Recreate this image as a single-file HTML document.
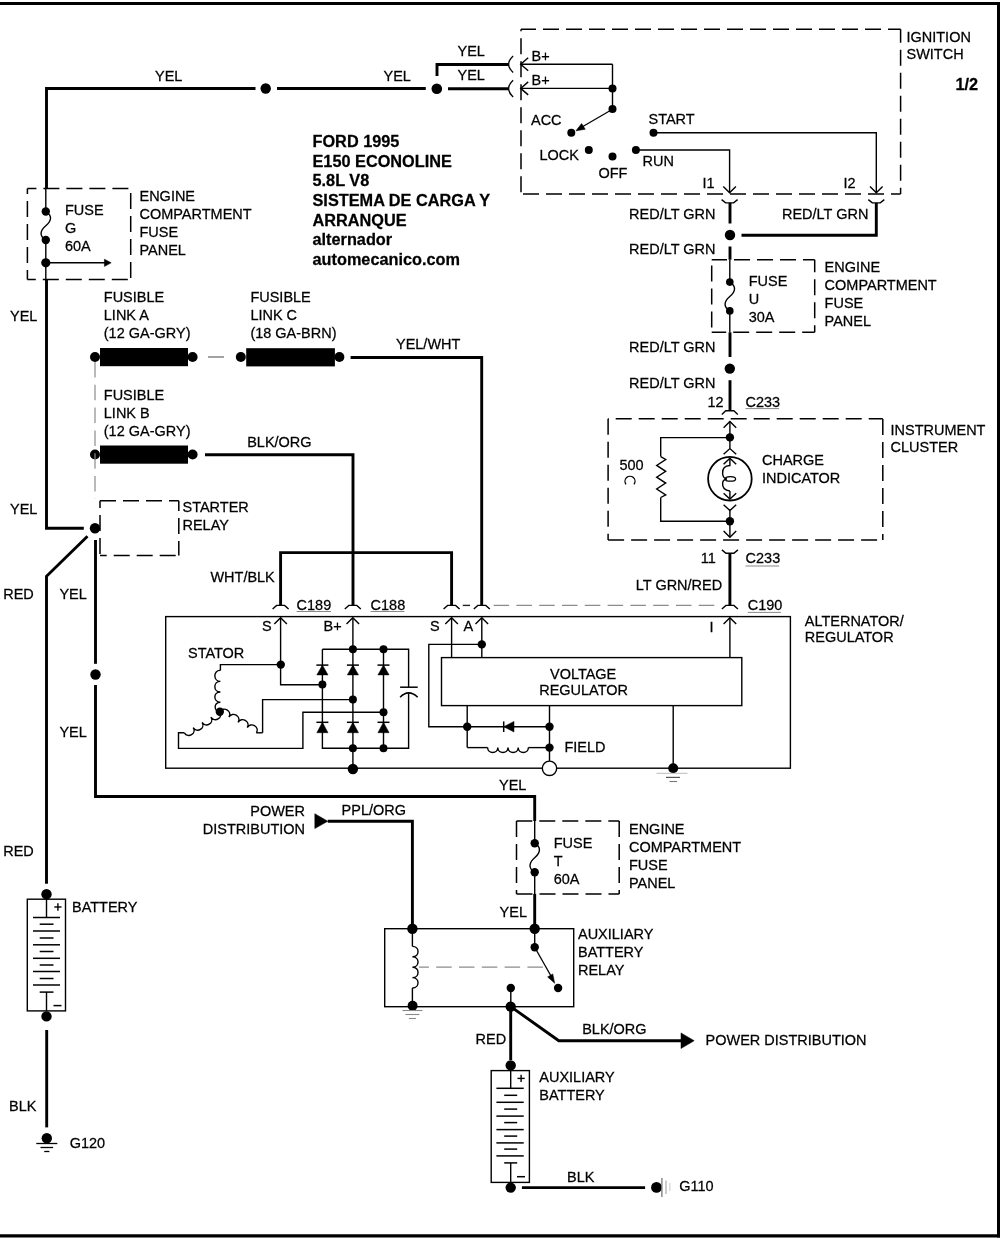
<!DOCTYPE html><html><head><meta charset="utf-8"><style>html,body{margin:0;padding:0;background:#fff;overflow:hidden}svg{display:block;will-change:transform}text{font-family:"Liberation Sans",sans-serif;fill:#000;stroke:#000;stroke-width:0.25px}</style></head><body>
<svg width="1000" height="1239" viewBox="0 0 1000 1239">
<rect width="1000" height="1239" fill="#fff"/>
<line x1="0" y1="3.5" x2="1000" y2="3.5" stroke="#000" stroke-width="3" />
<line x1="998.5" y1="2" x2="998.5" y2="1237.5" stroke="#000" stroke-width="3" />
<line x1="0" y1="1235.8" x2="1000" y2="1235.8" stroke="#000" stroke-width="3.2" />
<polyline points="46.5,188.6 46.5,88.5 255.5,88.5" fill="none" stroke="#000" stroke-width="2.9" stroke-linejoin="miter" />
<circle cx="265.7" cy="88.5" r="5.2" fill="#000"/>
<line x1="277" y1="88.5" x2="425.8" y2="88.5" stroke="#000" stroke-width="2.9" />
<circle cx="436.8" cy="88.8" r="5.3" fill="#000"/>
<line x1="448" y1="88.7" x2="508.5" y2="88.7" stroke="#000" stroke-width="2.9" />
<polyline points="437,76 437,64.5 508.5,64.5" fill="none" stroke="#000" stroke-width="2.9" stroke-linejoin="miter" />
<text transform="translate(155,80.5) scale(1,1.045)" font-size="14.5" >YEL</text>
<text transform="translate(383.5,80.5) scale(1,1.045)" font-size="14.5" >YEL</text>
<text transform="translate(457.5,55.5) scale(1,1.045)" font-size="14.5" >YEL</text>
<text transform="translate(457.5,80) scale(1,1.045)" font-size="14.5" >YEL</text>
<path d="M513.1,55.900000000000006 Q504.1,64.2 513.1,72.5" fill="none" stroke="#000" stroke-width="1.4" />
<path d="M513.1,80.3 Q504.1,88.6 513.1,96.89999999999999" fill="none" stroke="#000" stroke-width="1.4" />
<line x1="521" y1="29.3" x2="900.6" y2="29.3" stroke="#000" stroke-width="1.5" stroke-dasharray="16 7" stroke-dashoffset="1.00"/>
<line x1="900.6" y1="29.3" x2="900.6" y2="194" stroke="#000" stroke-width="1.5" stroke-dasharray="16 7" stroke-dashoffset="2.60"/>
<line x1="521" y1="194" x2="900.6" y2="194" stroke="#000" stroke-width="1.5" stroke-dasharray="16 7" stroke-dashoffset="21.00"/>
<line x1="521" y1="29.3" x2="521" y2="194" stroke="#000" stroke-width="1.5" stroke-dasharray="16 7" stroke-dashoffset="14.10"/>
<polyline points="528.2,57.7 520.7,64.2 528.2,70.7" fill="none" stroke="#000" stroke-width="1.4" stroke-linejoin="miter" />
<polyline points="528.2,81.9 520.7,88.4 528.2,94.9" fill="none" stroke="#000" stroke-width="1.4" stroke-linejoin="miter" />
<line x1="520.7" y1="64.2" x2="612.5" y2="64.2" stroke="#000" stroke-width="1.4" />
<line x1="520.7" y1="88.4" x2="612.5" y2="88.4" stroke="#000" stroke-width="1.4" />
<line x1="612.5" y1="64.2" x2="612.5" y2="109" stroke="#000" stroke-width="1.4" />
<circle cx="612.5" cy="88.4" r="4" fill="#000"/>
<circle cx="612.5" cy="109" r="4" fill="#000"/>
<line x1="609.5" y1="111" x2="582" y2="127" stroke="#000" stroke-width="1.2" />
<path d="M576,130.8 L581.6,123.6 L585.2,129.2 Z" fill="#000" stroke="#000" stroke-width="0.6" />
<circle cx="571.3" cy="132.8" r="4" fill="#000"/>
<circle cx="588.8" cy="150" r="4" fill="#000"/>
<circle cx="612.5" cy="156.4" r="4" fill="#000"/>
<circle cx="635.9" cy="150" r="4" fill="#000"/>
<circle cx="653.5" cy="132.8" r="4" fill="#000"/>
<polyline points="635.9,150 729.6,150 729.6,192.7" fill="none" stroke="#000" stroke-width="1.4" stroke-linejoin="miter" />
<polyline points="723.3000000000001,186.39999999999998 729.6,192.7 735.9,186.39999999999998" fill="none" stroke="#000" stroke-width="1.4" stroke-linejoin="miter" />
<polyline points="653.5,132.8 876.3,132.8 876.3,192.7" fill="none" stroke="#000" stroke-width="1.4" stroke-linejoin="miter" />
<polyline points="870.0,186.39999999999998 876.3,192.7 882.5999999999999,186.39999999999998" fill="none" stroke="#000" stroke-width="1.4" stroke-linejoin="miter" />
<text transform="translate(531.5,60.7) scale(1,1.045)" font-size="14.5" >B+</text>
<text transform="translate(531.5,84.5) scale(1,1.045)" font-size="14.5" >B+</text>
<text transform="translate(531,124.5) scale(1,1.045)" font-size="14.5" >ACC</text>
<text transform="translate(539.5,160) scale(1,1.045)" font-size="14.5" >LOCK</text>
<text transform="translate(598.5,178.3) scale(1,1.045)" font-size="14.5" >OFF</text>
<text transform="translate(642.5,166) scale(1,1.045)" font-size="14.5" >RUN</text>
<text transform="translate(648.5,124.2) scale(1,1.045)" font-size="14.5" >START</text>
<text transform="translate(702.5,188.3) scale(1,1.045)" font-size="14.5" >I1</text>
<text transform="translate(843.5,188.3) scale(1,1.045)" font-size="14.5" >I2</text>
<text transform="translate(906.5,41.5) scale(1,1.045)" font-size="14.5" >IGNITION</text>
<text transform="translate(906.5,59.2) scale(1,1.045)" font-size="14.5" >SWITCH</text>
<text transform="translate(955.5,89.8) scale(1,1.045)" font-size="16.3" font-weight="bold" >1/2</text>
<path d="M721.6,199.6 L725.6,202.9 L733.6,202.9 L737.6,199.6" fill="none" stroke="#000" stroke-width="1.4" />
<path d="M868.3,199.6 L872.3,202.9 L880.3,202.9 L884.3,199.6" fill="none" stroke="#000" stroke-width="1.4" />
<line x1="730" y1="202.9" x2="730" y2="223.5" stroke="#000" stroke-width="2.9" />
<circle cx="730" cy="235" r="5.2" fill="#000"/>
<polyline points="876.3,202.9 876.3,235.2 741.5,235.2" fill="none" stroke="#000" stroke-width="2.9" stroke-linejoin="miter" />
<line x1="730" y1="246.5" x2="730" y2="259.7" stroke="#000" stroke-width="2.9" />
<text transform="translate(715.5,218.8) scale(1,1.045)" font-size="14.5" text-anchor="end" >RED/LT GRN</text>
<text transform="translate(782,218.8) scale(1,1.045)" font-size="14.5" >RED/LT GRN</text>
<text transform="translate(715.5,253.5) scale(1,1.045)" font-size="14.5" text-anchor="end" >RED/LT GRN</text>
<line x1="711.7" y1="259.7" x2="814.7" y2="259.7" stroke="#000" stroke-width="1.5" stroke-dasharray="16 7" stroke-dashoffset="0.70"/>
<line x1="814.7" y1="259.7" x2="814.7" y2="332.3" stroke="#000" stroke-width="1.5" stroke-dasharray="16 7" stroke-dashoffset="3.40"/>
<line x1="711.7" y1="332.3" x2="814.7" y2="332.3" stroke="#000" stroke-width="1.5" stroke-dasharray="16 7" stroke-dashoffset="1.50"/>
<line x1="711.7" y1="259.7" x2="711.7" y2="332.3" stroke="#000" stroke-width="1.5" stroke-dasharray="16 7" stroke-dashoffset="17.10"/>
<line x1="729.8" y1="259.7" x2="729.8" y2="282" stroke="#000" stroke-width="1.4" />
<line x1="729.8" y1="311" x2="729.8" y2="332.3" stroke="#000" stroke-width="1.4" />
<path d="M729.8,282.1 C736.5999999999999,286.132 735.5999999999999,291.604 729.8,296.5 C724.0,301.396 723.0,306.868 729.8,310.9" fill="none" stroke="#000" stroke-width="1.4" />
<circle cx="729.8" cy="282.1" r="3.8" fill="#000"/>
<circle cx="729.8" cy="310.9" r="3.8" fill="#000"/>
<text transform="translate(748.7,286.2) scale(1,1.045)" font-size="14.5" >FUSE</text>
<text transform="translate(748.7,304.2) scale(1,1.045)" font-size="14.5" >U</text>
<text transform="translate(748.7,322.2) scale(1,1.045)" font-size="14.5" >30A</text>
<text transform="translate(824.6,271.5) scale(1,1.045)" font-size="14.5" >ENGINE</text>
<text transform="translate(824.6,289.5) scale(1,1.045)" font-size="14.5" >COMPARTMENT</text>
<text transform="translate(824.6,307.5) scale(1,1.045)" font-size="14.5" >FUSE</text>
<text transform="translate(824.6,325.5) scale(1,1.045)" font-size="14.5" >PANEL</text>
<line x1="730" y1="332.3" x2="730" y2="357" stroke="#000" stroke-width="2.9" />
<circle cx="729.8" cy="368.6" r="5.2" fill="#000"/>
<line x1="730" y1="380.2" x2="730" y2="410.8" stroke="#000" stroke-width="2.9" />
<text transform="translate(715.5,352.3) scale(1,1.045)" font-size="14.5" text-anchor="end" >RED/LT GRN</text>
<text transform="translate(715.5,387.6) scale(1,1.045)" font-size="14.5" text-anchor="end" >RED/LT GRN</text>
<text transform="translate(707.5,406.6) scale(1,1.045)" font-size="14.5" >12</text>
<text transform="translate(745.5,406.6) scale(1,1.045)" font-size="14.5" >C233</text>
<line x1="745.5" y1="408.6" x2="779" y2="408.6" stroke="#888" stroke-width="1" />
<path d="M721.8,414.40000000000003 L725.8,410.8 L733.8,410.8 L737.8,414.40000000000003" fill="none" stroke="#000" stroke-width="1.4" />
<line x1="608.1" y1="418.8" x2="882.8" y2="418.8" stroke="#000" stroke-width="1.5" stroke-dasharray="16 7" stroke-dashoffset="15.40"/>
<line x1="882.8" y1="418.8" x2="882.8" y2="539.9" stroke="#000" stroke-width="1.5" stroke-dasharray="16 7" stroke-dashoffset="22.80"/>
<line x1="608.1" y1="539.9" x2="882.8" y2="539.9" stroke="#000" stroke-width="1.5" stroke-dasharray="16 7" stroke-dashoffset="0.00"/>
<line x1="608.1" y1="418.8" x2="608.1" y2="539.9" stroke="#000" stroke-width="1.5" stroke-dasharray="16 7" stroke-dashoffset="0.00"/>
<polyline points="723.6,427.7 729.9,421.4 736.1999999999999,427.7" fill="none" stroke="#000" stroke-width="1.4" stroke-linejoin="miter" />
<line x1="729.9" y1="421.4" x2="729.9" y2="437.5" stroke="#000" stroke-width="1.4" />
<circle cx="729.9" cy="437.4" r="4.2" fill="#000"/>
<polyline points="729.9,437.6 660.7,437.6 660.7,456.6" fill="none" stroke="#000" stroke-width="1.4" stroke-linejoin="miter" />
<path d="M660.7,456.6 L665.7,459.5 L656.7,465.4 L665.7,471.3 L656.7,477.2 L665.7,483.1 L656.7,489 L665.7,494.9 L660.7,497.5" fill="none" stroke="#000" stroke-width="1.4" />
<polyline points="660.7,497.5 660.7,521.3 729.9,521.3" fill="none" stroke="#000" stroke-width="1.4" stroke-linejoin="miter" />
<line x1="729.9" y1="437.4" x2="729.9" y2="448.6" stroke="#000" stroke-width="1.4" />
<polyline points="723.6,454.3 729.9,448.6 736.2,454.3" fill="none" stroke="#000" stroke-width="1.4" stroke-linejoin="miter" />
<circle cx="729.9" cy="478.7" r="21.8" fill="none" stroke="#000" stroke-width="1.8"/>
<polyline points="723.6,464.3 729.9,458.2 736.2,464.3" fill="none" stroke="#000" stroke-width="1.4" stroke-linejoin="miter" />
<path d="M729.9,458.2 L729.9,465.5 Q722,466 722.6,473.5 Q723,478.5 727,479 M729.9,491 L729.9,499 M729.9,491 Q722,490 722.6,483 Q723,479.5 727,479" fill="none" stroke="#000" stroke-width="1.4" />
<ellipse cx="730.4" cy="478.9" rx="5.2" ry="2.3" fill="none" stroke="#000" stroke-width="1.3"/>
<polyline points="723.6,493.2 729.9,499 736.2,493.2" fill="none" stroke="#000" stroke-width="1.4" stroke-linejoin="miter" />
<polyline points="723.6,504.7 729.9,510.5 736.2,504.7" fill="none" stroke="#000" stroke-width="1.4" stroke-linejoin="miter" />
<line x1="729.9" y1="510.5" x2="729.9" y2="537.2" stroke="#000" stroke-width="1.4" />
<circle cx="729.9" cy="521.3" r="4.2" fill="#000"/>
<polyline points="723.6,530.9000000000001 729.9,537.2 736.1999999999999,530.9000000000001" fill="none" stroke="#000" stroke-width="1.4" stroke-linejoin="miter" />
<text transform="translate(619.4,469.8) scale(1,1.045)" font-size="14.5" >500</text>
<path d="M626,484.3 A5,5 0 1,1 634,484.3" fill="none" stroke="#000" stroke-width="1.3" />
<text transform="translate(762,465.3) scale(1,1.045)" font-size="14.5" >CHARGE</text>
<text transform="translate(762,483.3) scale(1,1.045)" font-size="14.5" >INDICATOR</text>
<text transform="translate(890.5,435.4) scale(1,1.045)" font-size="14.5" >INSTRUMENT</text>
<text transform="translate(890.5,451.9) scale(1,1.045)" font-size="14.5" >CLUSTER</text>
<path d="M721.9,549.9000000000001 L725.9,553.2 L733.9,553.2 L737.9,549.9000000000001" fill="none" stroke="#000" stroke-width="1.4" />
<line x1="729.9" y1="553.2" x2="729.9" y2="605.4" stroke="#000" stroke-width="2.9" />
<text transform="translate(700.8,563.3) scale(1,1.045)" font-size="14.5" >11</text>
<text transform="translate(745.6,563.3) scale(1,1.045)" font-size="14.5" >C233</text>
<line x1="745.6" y1="566" x2="779" y2="566" stroke="#888" stroke-width="1" />
<text transform="translate(635.8,589.9) scale(1,1.045)" font-size="14.5" >LT GRN/RED</text>
<path d="M721.9,609.0 L725.9,605.4 L733.9,605.4 L737.9,609.0" fill="none" stroke="#000" stroke-width="1.4" />
<text transform="translate(747.8,609.5) scale(1,1.045)" font-size="14.5" >C190</text>
<line x1="747.8" y1="612.4" x2="781" y2="612.4" stroke="#888" stroke-width="1" />
<line x1="27.4" y1="188.6" x2="130.7" y2="188.6" stroke="#000" stroke-width="1.5" stroke-dasharray="16 7" stroke-dashoffset="7.00"/>
<line x1="130.7" y1="188.6" x2="130.7" y2="279.4" stroke="#000" stroke-width="1.5" stroke-dasharray="16 7" stroke-dashoffset="18.60"/>
<line x1="27.4" y1="279.4" x2="130.7" y2="279.4" stroke="#000" stroke-width="1.5" stroke-dasharray="16 7" stroke-dashoffset="7.60"/>
<line x1="27.4" y1="188.6" x2="27.4" y2="279.4" stroke="#000" stroke-width="1.5" stroke-dasharray="16 7" stroke-dashoffset="10.60"/>
<line x1="45.8" y1="188.6" x2="45.8" y2="211.5" stroke="#000" stroke-width="1.4" />
<line x1="45.8" y1="240" x2="45.8" y2="279.4" stroke="#000" stroke-width="1.4" />
<path d="M45.8,211.5 C52.599999999999994,215.49 51.599999999999994,220.905 45.8,225.75 C40.0,230.595 39.0,236.01 45.8,240" fill="none" stroke="#000" stroke-width="1.4" />
<circle cx="45.8" cy="211.5" r="4.2" fill="#000"/>
<circle cx="45.8" cy="240" r="4.2" fill="#000"/>
<circle cx="45.8" cy="262.8" r="4.6" fill="#000"/>
<line x1="45.8" y1="262.8" x2="105" y2="262.8" stroke="#000" stroke-width="1.4" />
<path d="M111.2,262.8 L104.4,259.2 L104.4,266.4 Z" fill="#000" stroke="#000" stroke-width="0.5" />
<text transform="translate(65,214.8) scale(1,1.045)" font-size="14.5" >FUSE</text>
<text transform="translate(65,232.8) scale(1,1.045)" font-size="14.5" >G</text>
<text transform="translate(65,250.8) scale(1,1.045)" font-size="14.5" >60A</text>
<text transform="translate(139.5,201) scale(1,1.045)" font-size="14.5" >ENGINE</text>
<text transform="translate(139.5,219) scale(1,1.045)" font-size="14.5" >COMPARTMENT</text>
<text transform="translate(139.5,237) scale(1,1.045)" font-size="14.5" >FUSE</text>
<text transform="translate(139.5,255) scale(1,1.045)" font-size="14.5" >PANEL</text>
<polyline points="46.5,279.4 46.5,528.2 83.8,528.2" fill="none" stroke="#000" stroke-width="2.9" stroke-linejoin="miter" />
<text transform="translate(10,320.5) scale(1,1.045)" font-size="14.5" >YEL</text>
<text transform="translate(10,514) scale(1,1.045)" font-size="14.5" >YEL</text>
<rect x="100" y="348" width="88" height="18.2" fill="#000"/>
<circle cx="95" cy="357" r="5" fill="#000"/>
<circle cx="192.6" cy="357" r="5" fill="#000"/>
<rect x="100" y="445.5" width="88" height="18.2" fill="#000"/>
<circle cx="95" cy="454.5" r="5" fill="#000"/>
<circle cx="192.6" cy="454.5" r="5" fill="#000"/>
<rect x="246.2" y="348.2" width="88.7" height="18.2" fill="#000"/>
<circle cx="240.8" cy="357" r="5" fill="#000"/>
<circle cx="339.4" cy="357" r="5" fill="#000"/>
<line x1="208" y1="357" x2="224" y2="357" stroke="#666" stroke-width="1.2" />
<line x1="95" y1="362" x2="95" y2="499" stroke="#8c8c8c" stroke-width="1.2" stroke-dasharray="15.5 7.3" stroke-dashoffset="0.00"/>
<text transform="translate(103.8,302) scale(1,1.045)" font-size="14.5" >FUSIBLE</text>
<text transform="translate(103.8,320) scale(1,1.045)" font-size="14.5" >LINK A</text>
<text transform="translate(103.8,338) scale(1,1.045)" font-size="14.5" >(12 GA-GRY)</text>
<text transform="translate(103.8,400) scale(1,1.045)" font-size="14.5" >FUSIBLE</text>
<text transform="translate(103.8,418) scale(1,1.045)" font-size="14.5" >LINK B</text>
<text transform="translate(103.8,436) scale(1,1.045)" font-size="14.5" >(12 GA-GRY)</text>
<text transform="translate(250.4,302) scale(1,1.045)" font-size="14.5" >FUSIBLE</text>
<text transform="translate(250.4,320) scale(1,1.045)" font-size="14.5" >LINK C</text>
<text transform="translate(250.4,338) scale(1,1.045)" font-size="14.5" >(18 GA-BRN)</text>
<polyline points="350.6,357.5 481.7,357.5 481.7,605.4" fill="none" stroke="#000" stroke-width="2.9" stroke-linejoin="miter" />
<text transform="translate(396,348.8) scale(1,1.045)" font-size="14.5" >YEL/WHT</text>
<polyline points="205,454.7 353,454.7 353,605.4" fill="none" stroke="#000" stroke-width="2.9" stroke-linejoin="miter" />
<text transform="translate(247.2,447) scale(1,1.045)" font-size="14.5" >BLK/ORG</text>
<polyline points="280.6,605.4 280.6,552.6 451.6,552.6 451.6,605.4" fill="none" stroke="#000" stroke-width="2.9" stroke-linejoin="miter" />
<text transform="translate(210.4,582.4) scale(1,1.045)" font-size="14.5" >WHT/BLK</text>
<line x1="100" y1="500.8" x2="178.8" y2="500.8" stroke="#000" stroke-width="1.5" stroke-dasharray="16 7" stroke-dashoffset="0.00"/>
<line x1="178.8" y1="500.8" x2="178.8" y2="555.5" stroke="#000" stroke-width="1.5" stroke-dasharray="16 7" stroke-dashoffset="5.80"/>
<line x1="100" y1="555.5" x2="178.8" y2="555.5" stroke="#000" stroke-width="1.5" stroke-dasharray="16 7" stroke-dashoffset="9.30"/>
<line x1="100" y1="500.8" x2="100" y2="555.5" stroke="#000" stroke-width="1.5" stroke-dasharray="16 7" stroke-dashoffset="8.80"/>
<text transform="translate(182.5,512.3) scale(1,1.045)" font-size="14.5" >STARTER</text>
<text transform="translate(182.5,529.6999999999999) scale(1,1.045)" font-size="14.5" >RELAY</text>
<circle cx="95" cy="528.2" r="5.2" fill="#000"/>
<polyline points="87.5,536.3 46.5,576.3 46.5,883.8" fill="none" stroke="#000" stroke-width="2.9" stroke-linejoin="miter" />
<line x1="95.5" y1="540" x2="95.5" y2="663.8" stroke="#000" stroke-width="2.9" />
<circle cx="95.5" cy="674.5" r="5.2" fill="#000"/>
<polyline points="95.5,685 95.5,796.5 534.7,796.5 534.7,821.1" fill="none" stroke="#000" stroke-width="2.9" stroke-linejoin="miter" />
<text transform="translate(3.2,599.2) scale(1,1.045)" font-size="14.5" >RED</text>
<text transform="translate(59.4,598.9) scale(1,1.045)" font-size="14.5" >YEL</text>
<text transform="translate(59.4,736.6) scale(1,1.045)" font-size="14.5" >YEL</text>
<text transform="translate(3.2,856) scale(1,1.045)" font-size="14.5" >RED</text>
<text transform="translate(499,790) scale(1,1.045)" font-size="14.5" >YEL</text>
<rect x="165.7" y="616.6" width="624.7" height="151.60000000000002" fill="none" stroke="#000" stroke-width="1.4"/>
<path d="M272.6,609.0 L276.6,605.4 L284.6,605.4 L288.6,609.0" fill="none" stroke="#000" stroke-width="1.4" />
<path d="M344.8,609.0 L348.8,605.4 L356.8,605.4 L360.8,609.0" fill="none" stroke="#000" stroke-width="1.4" />
<path d="M443.6,609.0 L447.6,605.4 L455.6,605.4 L459.6,609.0" fill="none" stroke="#000" stroke-width="1.4" />
<path d="M473.8,609.0 L477.8,605.4 L485.8,605.4 L489.8,609.0" fill="none" stroke="#000" stroke-width="1.4" />
<text transform="translate(296.6,609.6) scale(1,1.045)" font-size="14.5" >C189</text>
<line x1="296.6" y1="611.5" x2="331" y2="611.5" stroke="#888" stroke-width="1" />
<text transform="translate(370.6,609.6) scale(1,1.045)" font-size="14.5" >C188</text>
<line x1="370.6" y1="611.5" x2="404.4" y2="611.5" stroke="#888" stroke-width="1" />
<line x1="462.8" y1="605.4" x2="470" y2="605.4" stroke="#222" stroke-width="1.4" />
<line x1="493.6" y1="605.4" x2="721" y2="605.4" stroke="#8c8c8c" stroke-width="1.3" stroke-dasharray="15.5 7.3" stroke-dashoffset="0.00"/>
<polyline points="274.3,624.0999999999999 280.6,617.8 286.90000000000003,624.0999999999999" fill="none" stroke="#000" stroke-width="1.4" stroke-linejoin="miter" />
<polyline points="346.5,624.0999999999999 352.8,617.8 359.1,624.0999999999999" fill="none" stroke="#000" stroke-width="1.4" stroke-linejoin="miter" />
<polyline points="445.3,624.0999999999999 451.6,617.8 457.90000000000003,624.0999999999999" fill="none" stroke="#000" stroke-width="1.4" stroke-linejoin="miter" />
<polyline points="475.5,624.0999999999999 481.8,617.8 488.1,624.0999999999999" fill="none" stroke="#000" stroke-width="1.4" stroke-linejoin="miter" />
<polyline points="723.6,624.0999999999999 729.9,617.8 736.1999999999999,624.0999999999999" fill="none" stroke="#000" stroke-width="1.4" stroke-linejoin="miter" />
<text transform="translate(262,631) scale(1,1.045)" font-size="14.5" >S</text>
<text transform="translate(323.6,631) scale(1,1.045)" font-size="14.5" >B+</text>
<text transform="translate(430,630.7) scale(1,1.045)" font-size="14.5" >S</text>
<text transform="translate(463.6,631.4) scale(1,1.045)" font-size="14.5" >A</text>
<text transform="translate(709.5,632) scale(1,1.045)" font-size="14.5" >I</text>
<text transform="translate(804.8,626.3) scale(1,1.045)" font-size="14.5" >ALTERNATOR/</text>
<text transform="translate(804.8,641.8) scale(1,1.045)" font-size="14.5" >REGULATOR</text>
<text transform="translate(188,658) scale(1,1.045)" font-size="14.5" >STATOR</text>
<polyline points="280.6,617.8 280.6,684.8 322.4,684.8" fill="none" stroke="#000" stroke-width="1.4" stroke-linejoin="miter" />
<circle cx="280.8" cy="664.6" r="4.2" fill="#000"/>
<polyline points="280.6,664.6 220.4,664.6 220.4,670.4" fill="none" stroke="#000" stroke-width="1.4" stroke-linejoin="miter" />
<line x1="352.9" y1="617.8" x2="352.9" y2="769" stroke="#000" stroke-width="1.4" />
<polyline points="322.4,649.2 408.6,649.2 408.6,687.2" fill="none" stroke="#000" stroke-width="1.4" stroke-linejoin="miter" />
<polyline points="408.6,693.2 408.6,748.3 322.4,748.3 322.4,649.2" fill="none" stroke="#000" stroke-width="1.4" stroke-linejoin="miter" />
<line x1="383.5" y1="649.2" x2="383.5" y2="748.3" stroke="#000" stroke-width="1.4" />
<path d="M316.79999999999995,674.9 L328.0,674.9 L322.4,665.1 Z" fill="#000" stroke="#000" stroke-width="0.5" />
<line x1="316.4" y1="665.1" x2="328.4" y2="665.1" stroke="#000" stroke-width="1.5" />
<path d="M316.79999999999995,732.7 L328.0,732.7 L322.4,722.3 Z" fill="#000" stroke="#000" stroke-width="0.5" />
<line x1="316.4" y1="722.3" x2="328.4" y2="722.3" stroke="#000" stroke-width="1.5" />
<path d="M347.29999999999995,674.9 L358.5,674.9 L352.9,665.1 Z" fill="#000" stroke="#000" stroke-width="0.5" />
<line x1="346.9" y1="665.1" x2="358.9" y2="665.1" stroke="#000" stroke-width="1.5" />
<path d="M347.29999999999995,732.7 L358.5,732.7 L352.9,722.3 Z" fill="#000" stroke="#000" stroke-width="0.5" />
<line x1="346.9" y1="722.3" x2="358.9" y2="722.3" stroke="#000" stroke-width="1.5" />
<path d="M377.9,674.9 L389.1,674.9 L383.5,665.1 Z" fill="#000" stroke="#000" stroke-width="0.5" />
<line x1="377.5" y1="665.1" x2="389.5" y2="665.1" stroke="#000" stroke-width="1.5" />
<path d="M377.9,732.7 L389.1,732.7 L383.5,722.3 Z" fill="#000" stroke="#000" stroke-width="0.5" />
<line x1="377.5" y1="722.3" x2="389.5" y2="722.3" stroke="#000" stroke-width="1.5" />
<circle cx="352.9" cy="649.2" r="4" fill="#000"/>
<circle cx="383.5" cy="649.2" r="4" fill="#000"/>
<circle cx="322.4" cy="684.6" r="4" fill="#000"/>
<circle cx="352.9" cy="699.6" r="4" fill="#000"/>
<circle cx="383.5" cy="712.2" r="4" fill="#000"/>
<circle cx="352.9" cy="748.3" r="4" fill="#000"/>
<circle cx="383.5" cy="748.3" r="4" fill="#000"/>
<circle cx="352.9" cy="769" r="5.2" fill="#000"/>
<line x1="400.1" y1="687.2" x2="417.7" y2="687.2" stroke="#000" stroke-width="1.5" />
<path d="M400.1,697.2 Q408.6,688.5 417.7,697.2" fill="none" stroke="#000" stroke-width="1.5" />
<polyline points="262.6,732.8 262.6,699.6 352.9,699.6" fill="none" stroke="#000" stroke-width="1.4" stroke-linejoin="miter" />
<polyline points="184.4,732.8 178.5,732.8 178.5,748.4 302.9,748.4 302.9,712.2 383.5,712.2" fill="none" stroke="#000" stroke-width="1.4" stroke-linejoin="miter" />
<path d="M220.4,670.4 C213,670 213,681.4 220.4,681.4 C213,681.4 213,692 220.4,692 C213,692 213,702.2 220.4,702.2 C213,702.2 214,711.8 219.8,711.8" fill="none" stroke="#000" stroke-width="1.4" />
<circle cx="219.8" cy="711.8" r="4.2" fill="#000"/>
<path d="M219.8,711.8 C223.28,705.73 232.43,710.98 228.95,717.05 C232.43,710.98 241.58,716.23 238.10,722.30 C241.58,716.23 250.73,721.48 247.25,727.55 C250.73,721.48 259.88,726.73 256.40,732.80" fill="none" stroke="#000" stroke-width="1.4" />
<line x1="256.4" y1="732.8" x2="262.6" y2="732.8" stroke="#000" stroke-width="1.4" />
<path d="M219.8,711.8 C223.37,717.82 214.52,723.07 210.95,717.05 C214.52,723.07 205.67,728.32 202.10,722.30 C205.67,728.32 196.82,733.57 193.25,727.55 C196.82,733.57 187.97,738.82 184.40,732.80" fill="none" stroke="#000" stroke-width="1.4" />
<rect x="441.5" y="657.6" width="300.29999999999995" height="48.0" fill="none" stroke="#000" stroke-width="1.4"/>
<line x1="451.6" y1="617.8" x2="451.6" y2="657.6" stroke="#000" stroke-width="1.4" />
<line x1="481.8" y1="617.8" x2="481.8" y2="657.6" stroke="#000" stroke-width="1.4" />
<circle cx="481.8" cy="644.4" r="4.2" fill="#000"/>
<polyline points="481.8,644.4 428.8,644.4 428.8,726.7 467.2,726.7" fill="none" stroke="#000" stroke-width="1.4" stroke-linejoin="miter" />
<text transform="translate(550,678.8) scale(1,1.045)" font-size="14.5" >VOLTAGE</text>
<text transform="translate(539.2,694.9) scale(1,1.045)" font-size="14.5" >REGULATOR</text>
<line x1="729.9" y1="617.8" x2="729.9" y2="657.6" stroke="#000" stroke-width="1.4" />
<line x1="467.2" y1="705.6" x2="467.2" y2="747.6" stroke="#000" stroke-width="1.4" />
<line x1="549.5" y1="705.6" x2="549.5" y2="761.2" stroke="#000" stroke-width="1.4" />
<line x1="467.2" y1="726.7" x2="549.5" y2="726.7" stroke="#000" stroke-width="1.4" />
<path d="M503.7,726.7 L514,721.4 L514,732 Z" fill="#000" stroke="#000" stroke-width="0.5" />
<line x1="503.7" y1="721.4" x2="503.7" y2="732" stroke="#000" stroke-width="1.5" />
<circle cx="467.2" cy="726.7" r="4.2" fill="#000"/>
<circle cx="549.5" cy="726.7" r="4.2" fill="#000"/>
<circle cx="549.5" cy="747.6" r="4.2" fill="#000"/>
<polyline points="467.2,747.6 487.6,747.6" fill="none" stroke="#000" stroke-width="1.4" stroke-linejoin="miter" />
<path d="M487.6,747.6 C487.60,754.10 497.80,754.10 497.80,747.60 C497.80,754.10 508.00,754.10 508.00,747.60 C508.00,754.10 518.20,754.10 518.20,747.60 C518.20,754.10 528.40,754.10 528.40,747.60" fill="none" stroke="#000" stroke-width="1.4" />
<line x1="528.4" y1="747.6" x2="549.5" y2="747.6" stroke="#000" stroke-width="1.4" />
<circle cx="549.5" cy="768.3" r="7.2" fill="#fff" stroke="#000" stroke-width="1.4"/>
<text transform="translate(564.4,751.7) scale(1,1.045)" font-size="14.5" >FIELD</text>
<line x1="673.2" y1="705.6" x2="673.2" y2="768.2" stroke="#000" stroke-width="1.4" />
<circle cx="673.2" cy="768.2" r="5" fill="#000"/>
<line x1="656.5" y1="773.3" x2="687.5" y2="773.3" stroke="#bbb" stroke-width="1" />
<line x1="666" y1="777.4" x2="680" y2="777.4" stroke="#555" stroke-width="1.2" />
<line x1="669.5" y1="781.5" x2="677" y2="781.5" stroke="#777" stroke-width="1.1" />
<circle cx="46.5" cy="894.3" r="5.2" fill="#000"/>
<rect x="27.3" y="899.2" width="38.2" height="111.69999999999993" fill="none" stroke="#000" stroke-width="1.4"/>
<line x1="46.5" y1="899.2" x2="46.5" y2="917.5" stroke="#000" stroke-width="1.4" />
<line x1="33" y1="917.5" x2="60" y2="917.5" stroke="#000" stroke-width="1.5" />
<line x1="39.7" y1="924.2" x2="53.5" y2="924.2" stroke="#000" stroke-width="1.5" />
<line x1="33" y1="931" x2="60" y2="931" stroke="#000" stroke-width="1.5" />
<line x1="39.7" y1="938" x2="53.5" y2="938" stroke="#000" stroke-width="1.5" />
<line x1="33" y1="944.8" x2="60" y2="944.8" stroke="#000" stroke-width="1.5" />
<line x1="39.7" y1="951.5" x2="53.5" y2="951.5" stroke="#000" stroke-width="1.5" />
<line x1="33" y1="958.3" x2="60" y2="958.3" stroke="#000" stroke-width="1.5" />
<line x1="39.7" y1="965" x2="53.5" y2="965" stroke="#000" stroke-width="1.5" />
<line x1="33" y1="971.5" x2="60" y2="971.5" stroke="#000" stroke-width="1.5" />
<line x1="39.7" y1="978.5" x2="53.5" y2="978.5" stroke="#000" stroke-width="1.5" />
<line x1="33" y1="985" x2="60" y2="985" stroke="#000" stroke-width="1.5" />
<line x1="39.7" y1="992.1" x2="53.5" y2="992.1" stroke="#000" stroke-width="1.5" />
<line x1="46.5" y1="992.1" x2="46.5" y2="1010.9" stroke="#000" stroke-width="1.4" />
<line x1="54.3" y1="907" x2="61.5" y2="907" stroke="#000" stroke-width="1.4" />
<line x1="57.9" y1="903.3" x2="57.9" y2="910.7" stroke="#000" stroke-width="1.4" />
<line x1="53.5" y1="1005.6" x2="61.5" y2="1005.6" stroke="#000" stroke-width="1.5" />
<circle cx="46.5" cy="1016.4" r="5.2" fill="#000"/>
<line x1="46.7" y1="1030" x2="46.7" y2="1127.4" stroke="#000" stroke-width="2.9" />
<circle cx="46.8" cy="1138.3" r="5.2" fill="#000"/>
<line x1="36.3" y1="1143.5" x2="57.3" y2="1143.5" stroke="#000" stroke-width="1.3" />
<line x1="40.5" y1="1147.5" x2="53.099999999999994" y2="1147.5" stroke="#000" stroke-width="1.3" />
<line x1="44.199999999999996" y1="1151.5" x2="49.4" y2="1151.5" stroke="#000" stroke-width="1.3" />
<text transform="translate(69.7,1148) scale(1,1.045)" font-size="14.5" >G120</text>
<text transform="translate(9,1111) scale(1,1.045)" font-size="14.5" >BLK</text>
<text transform="translate(72,912) scale(1,1.045)" font-size="14.5" >BATTERY</text>
<path d="M314.8,813.7 L327.8,821.2 L314.8,828.6 Z" fill="#000" stroke="#000" stroke-width="0.5" />
<polyline points="327.8,821.2 412.4,821.2 412.4,928.7" fill="none" stroke="#000" stroke-width="2.9" stroke-linejoin="miter" />
<text transform="translate(305,816.4) scale(1,1.045)" font-size="14.5" text-anchor="end" >POWER</text>
<text transform="translate(305,834) scale(1,1.045)" font-size="14.5" text-anchor="end" >DISTRIBUTION</text>
<text transform="translate(341.6,814.8) scale(1,1.045)" font-size="14.5" >PPL/ORG</text>
<line x1="516.5" y1="821.1" x2="619.2" y2="821.1" stroke="#000" stroke-width="1.5" stroke-dasharray="16 7" stroke-dashoffset="0.20"/>
<line x1="619.2" y1="821.1" x2="619.2" y2="893.9" stroke="#000" stroke-width="1.5" stroke-dasharray="16 7" stroke-dashoffset="0.00"/>
<line x1="516.5" y1="893.9" x2="619.2" y2="893.9" stroke="#000" stroke-width="1.5" stroke-dasharray="16 7" stroke-dashoffset="0.00"/>
<line x1="516.5" y1="821.1" x2="516.5" y2="893.9" stroke="#000" stroke-width="1.5" stroke-dasharray="16 7" stroke-dashoffset="0.00"/>
<line x1="534.7" y1="821.1" x2="534.7" y2="843" stroke="#000" stroke-width="1.4" />
<line x1="534.7" y1="872.5" x2="534.7" y2="893.9" stroke="#000" stroke-width="1.4" />
<path d="M534.7,843.2 C541.5,847.274 540.5,852.803 534.7,857.75 C528.9000000000001,862.697 527.9000000000001,868.226 534.7,872.3" fill="none" stroke="#000" stroke-width="1.4" />
<circle cx="534.7" cy="843.2" r="4.2" fill="#000"/>
<circle cx="534.7" cy="872.3" r="4.2" fill="#000"/>
<text transform="translate(553.7,847.7) scale(1,1.045)" font-size="14.5" >FUSE</text>
<text transform="translate(553.7,865.7) scale(1,1.045)" font-size="14.5" >T</text>
<text transform="translate(553.7,883.7) scale(1,1.045)" font-size="14.5" >60A</text>
<text transform="translate(629,833.9) scale(1,1.045)" font-size="14.5" >ENGINE</text>
<text transform="translate(629,851.9) scale(1,1.045)" font-size="14.5" >COMPARTMENT</text>
<text transform="translate(629,869.9) scale(1,1.045)" font-size="14.5" >FUSE</text>
<text transform="translate(629,887.9) scale(1,1.045)" font-size="14.5" >PANEL</text>
<line x1="534.7" y1="893.9" x2="534.7" y2="929" stroke="#000" stroke-width="2.9" />
<text transform="translate(499.6,917) scale(1,1.045)" font-size="14.5" >YEL</text>
<rect x="384.7" y="928.7" width="189.00000000000006" height="78.0" fill="none" stroke="#000" stroke-width="1.4"/>
<circle cx="412.4" cy="928.7" r="5.2" fill="#000"/>
<circle cx="534.7" cy="928.7" r="5.2" fill="#000"/>
<line x1="412.4" y1="928.7" x2="412.4" y2="946.4" stroke="#000" stroke-width="1.4" />
<path d="M412.4,946.4 C419.90,946.40 419.90,956.80 412.40,956.80 C419.90,956.80 419.90,967.20 412.40,967.20 C419.90,967.20 419.90,977.60 412.40,977.60 C419.90,977.60 419.90,988.00 412.40,988.00" fill="none" stroke="#000" stroke-width="1.4" />
<line x1="412.4" y1="988" x2="412.4" y2="1006.7" stroke="#000" stroke-width="1.4" />
<circle cx="412.6" cy="1005.7" r="5" fill="#000"/>
<line x1="402.4" y1="1010.5" x2="422.4" y2="1010.5" stroke="#888" stroke-width="1.1" />
<line x1="405.4" y1="1014.5" x2="419.4" y2="1014.5" stroke="#888" stroke-width="1.1" />
<line x1="408.9" y1="1018.5" x2="415.9" y2="1018.5" stroke="#888" stroke-width="1.1" />
<line x1="534.7" y1="928.7" x2="534.7" y2="947.2" stroke="#000" stroke-width="1.4" />
<circle cx="534.7" cy="947.2" r="4.2" fill="#000"/>
<line x1="534.7" y1="947.2" x2="551" y2="976" stroke="#000" stroke-width="1.3" />
<path d="M554.7,983.3 L547.6,976.9 L552.8,973.9 Z" fill="#000" stroke="#000" stroke-width="0.5" />
<circle cx="558.1" cy="988" r="4.2" fill="#000"/>
<circle cx="510.8" cy="988" r="4.2" fill="#000"/>
<line x1="510.8" y1="988" x2="510.8" y2="1006.7" stroke="#000" stroke-width="1.4" />
<line x1="419" y1="967.2" x2="545" y2="967.2" stroke="#8c8c8c" stroke-width="1.3" stroke-dasharray="15.5 7.3" stroke-dashoffset="5.60"/>
<text transform="translate(578,939.3) scale(1,1.045)" font-size="14.5" >AUXILIARY</text>
<text transform="translate(578,957.0999999999999) scale(1,1.045)" font-size="14.5" >BATTERY</text>
<text transform="translate(578,974.9) scale(1,1.045)" font-size="14.5" >RELAY</text>
<circle cx="510.7" cy="1006.6" r="5.2" fill="#000"/>
<line x1="510.7" y1="1006.6" x2="510.7" y2="1060" stroke="#000" stroke-width="2.9" />
<polyline points="510.7,1006.6 558.8,1040.7 683,1040.7" fill="none" stroke="#000" stroke-width="2.9" stroke-linejoin="miter" />
<path d="M681,1032.9 L694.2,1040.7 L681,1048.5 Z" fill="#000" stroke="#000" stroke-width="0.5" />
<text transform="translate(582.2,1033.7) scale(1,1.045)" font-size="14.5" >BLK/ORG</text>
<text transform="translate(705.6,1045.2) scale(1,1.045)" font-size="14.5" >POWER DISTRIBUTION</text>
<text transform="translate(475.6,1043.8) scale(1,1.045)" font-size="14.5" >RED</text>
<circle cx="510.7" cy="1065.4" r="5.2" fill="#000"/>
<rect x="491.2" y="1070.6" width="38.19999999999999" height="111.80000000000018" fill="none" stroke="#000" stroke-width="1.4"/>
<line x1="510.7" y1="1070.6" x2="510.7" y2="1088.3" stroke="#000" stroke-width="1.4" />
<line x1="496.4" y1="1088.3" x2="523.7" y2="1088.3" stroke="#000" stroke-width="1.5" />
<line x1="504.2" y1="1095.3" x2="517.2" y2="1095.3" stroke="#000" stroke-width="1.5" />
<line x1="496.4" y1="1102.3" x2="523.7" y2="1102.3" stroke="#000" stroke-width="1.5" />
<line x1="504.2" y1="1109.1" x2="517.2" y2="1109.1" stroke="#000" stroke-width="1.5" />
<line x1="496.4" y1="1116.1" x2="523.7" y2="1116.1" stroke="#000" stroke-width="1.5" />
<line x1="504.2" y1="1122.6" x2="517.2" y2="1122.6" stroke="#000" stroke-width="1.5" />
<line x1="496.4" y1="1129.6" x2="523.7" y2="1129.6" stroke="#000" stroke-width="1.5" />
<line x1="504.2" y1="1136.1" x2="517.2" y2="1136.1" stroke="#000" stroke-width="1.5" />
<line x1="496.4" y1="1142.9" x2="523.7" y2="1142.9" stroke="#000" stroke-width="1.5" />
<line x1="504.2" y1="1149.1" x2="517.2" y2="1149.1" stroke="#000" stroke-width="1.5" />
<line x1="496.4" y1="1155.9" x2="523.7" y2="1155.9" stroke="#000" stroke-width="1.5" />
<line x1="504.2" y1="1162.9" x2="517.2" y2="1162.9" stroke="#000" stroke-width="1.5" />
<line x1="510.7" y1="1162.9" x2="510.7" y2="1182.4" stroke="#000" stroke-width="1.4" />
<line x1="517.5" y1="1078.4" x2="524.7" y2="1078.4" stroke="#000" stroke-width="1.4" />
<line x1="521.1" y1="1074.7" x2="521.1" y2="1082.1" stroke="#000" stroke-width="1.4" />
<line x1="517" y1="1176.7" x2="525" y2="1176.7" stroke="#000" stroke-width="1.5" />
<text transform="translate(539.3,1082.3) scale(1,1.045)" font-size="14.5" >AUXILIARY</text>
<text transform="translate(539.3,1100.1) scale(1,1.045)" font-size="14.5" >BATTERY</text>
<circle cx="510.7" cy="1187.6" r="5.2" fill="#000"/>
<line x1="521.9" y1="1187.6" x2="645.1" y2="1187.6" stroke="#000" stroke-width="2.9" />
<circle cx="656.5" cy="1187.4" r="5.4" fill="#000"/>
<line x1="661.9" y1="1178" x2="661.9" y2="1197" stroke="#777" stroke-width="1.3" />
<line x1="666" y1="1180.5" x2="666" y2="1194" stroke="#aaa" stroke-width="1.2" />
<line x1="669.8" y1="1183" x2="669.8" y2="1191" stroke="#ccc" stroke-width="1.1" />
<text transform="translate(567.1,1181.6) scale(1,1.045)" font-size="14.5" >BLK</text>
<text transform="translate(679.2,1191) scale(1,1.045)" font-size="14.5" >G110</text>
<text transform="translate(312.5,147.0) scale(1,1.045)" font-size="16.3" font-weight="bold" >FORD 1995</text>
<text transform="translate(312.5,166.67000000000002) scale(1,1.045)" font-size="16.3" font-weight="bold" >E150 ECONOLINE</text>
<text transform="translate(312.5,186.34) scale(1,1.045)" font-size="16.3" font-weight="bold" >5.8L V8</text>
<text transform="translate(312.5,206.01) scale(1,1.045)" font-size="16.3" font-weight="bold" >SISTEMA DE CARGA Y</text>
<text transform="translate(312.5,225.68) scale(1,1.045)" font-size="16.3" font-weight="bold" >ARRANQUE</text>
<text transform="translate(312.5,245.35000000000002) scale(1,1.045)" font-size="16.3" font-weight="bold" >alternador</text>
<text transform="translate(312.5,265.02) scale(1,1.045)" font-size="16.3" font-weight="bold" >automecanico.com</text>
</svg></body></html>
